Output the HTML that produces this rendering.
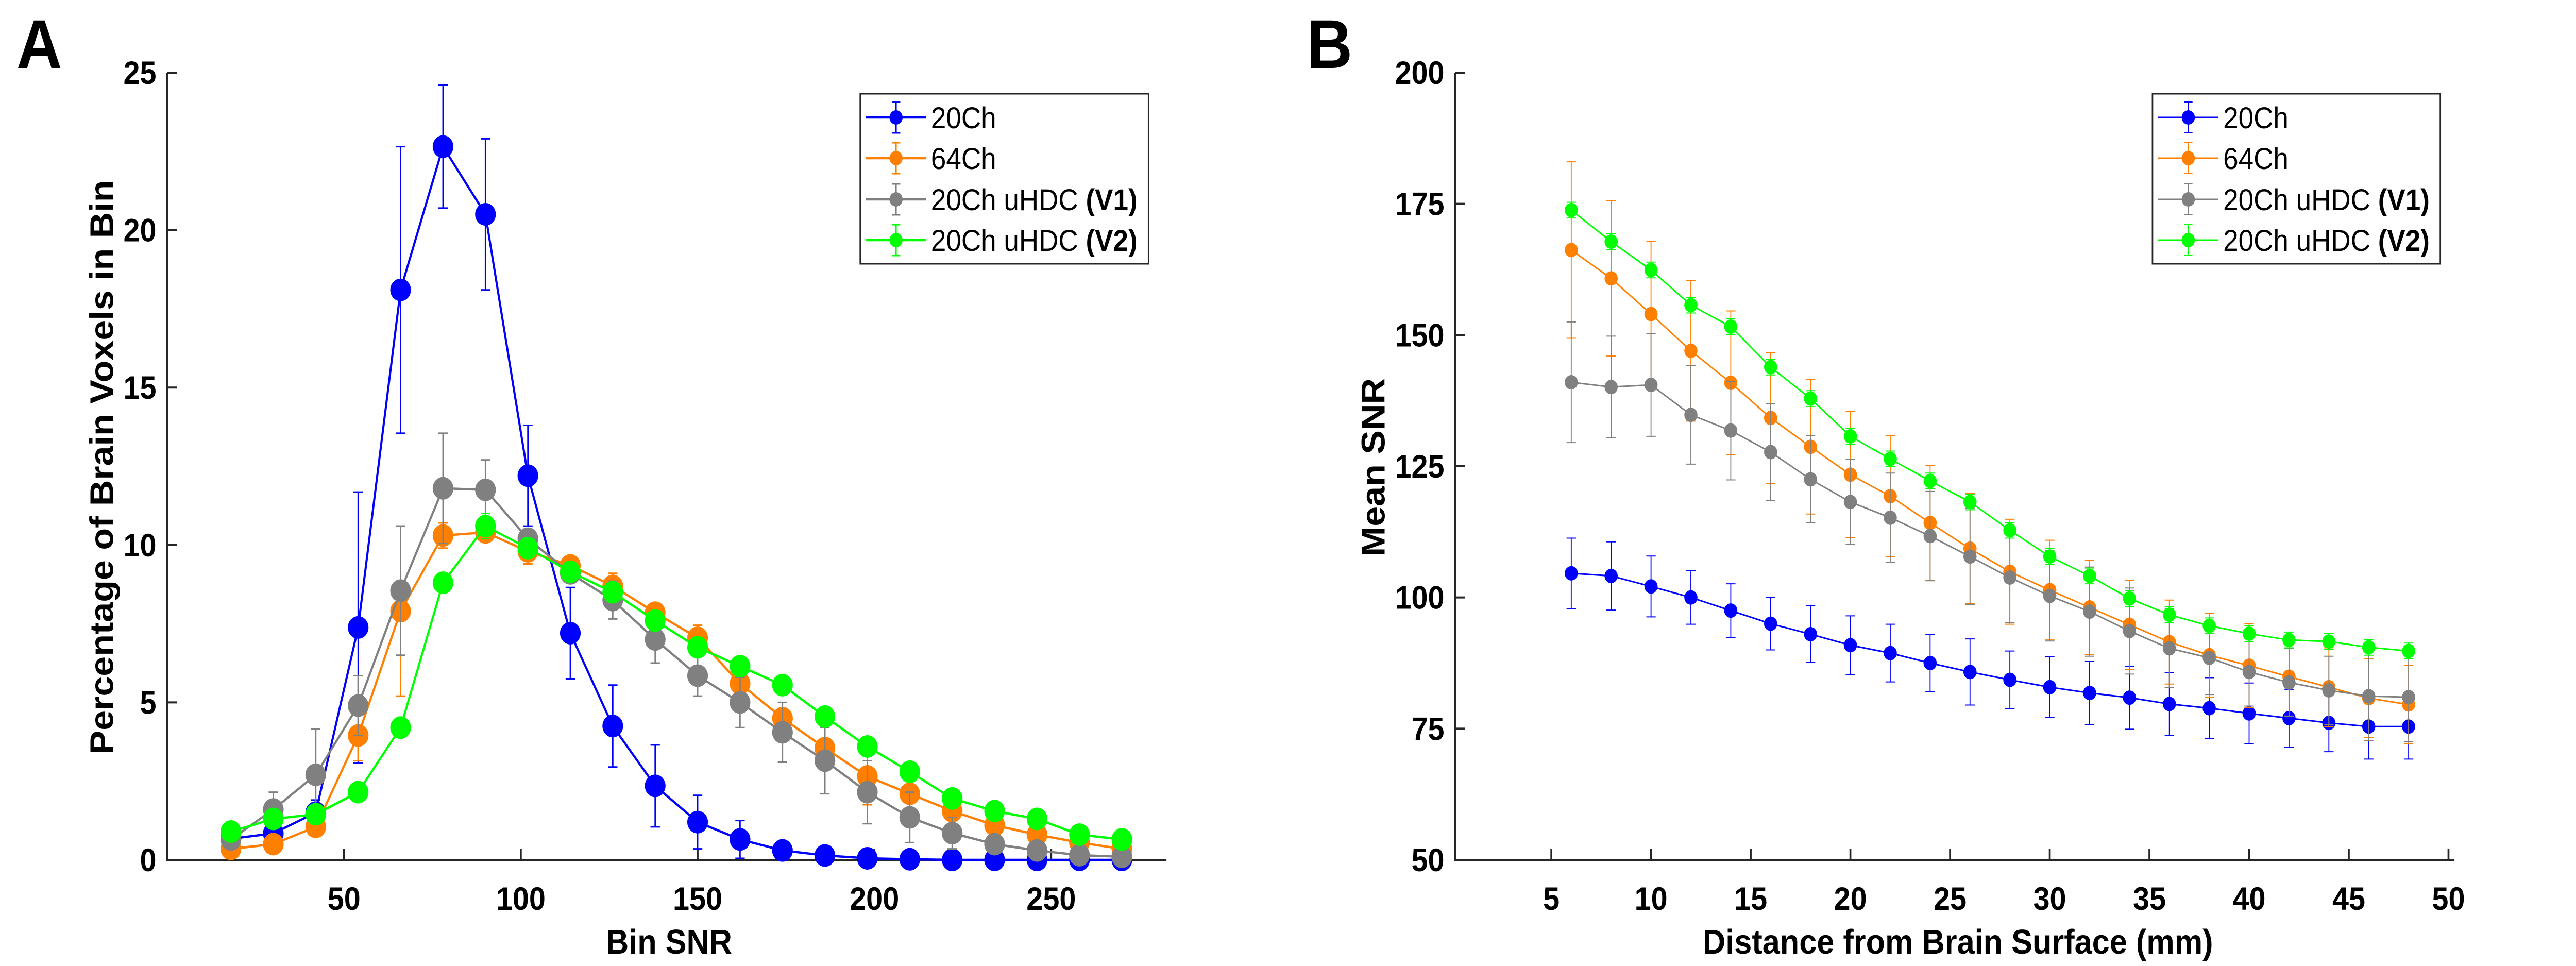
<!DOCTYPE html>
<html><head><meta charset="utf-8"><style>
html,body{margin:0;padding:0;background:#fff;width:100%;height:100%;overflow:hidden;}
svg{display:block;font-family:"Liberation Sans",Arial,sans-serif;position:absolute;left:0;top:0;width:100vw;height:100vh;}
</style></head><body>
<svg id="fig" viewBox="0 0 5468 1875" preserveAspectRatio="none" xmlns="http://www.w3.org/2000/svg">
<rect width="5468" height="1875" fill="#fff"/>
</svg>
<script>
// ---------- Panel A data ----------
const xA = [18,30,42,54,66,78,90,102,114,126,138,150,162,174,186,198,210,222,234,246,258,270];
const aBlue = [0.67,0.84,1.5,7.38,18.1,22.65,20.5,12.2,7.2,4.25,2.35,1.2,0.65,0.3,0.14,0.05,0.02,0,0,0,0,0];
const aBlueErr = [0.2,0.2,0.4,4.3,4.55,1.95,2.4,1.6,1.45,1.3,1.3,0.85,0.6,0.2,0.15,0.1,0.1,0.05,0.05,0.05,0.05,0.05];
const aOrange = [0.35,0.5,1.05,3.95,7.9,10.3,10.4,9.8,9.35,8.7,7.85,7.05,5.6,4.5,3.55,2.65,2.1,1.55,1.1,0.8,0.55,0.35];
const aOrangeErr = [0.2,0.2,0.3,0.8,2.7,0.4,0.3,0.4,0.3,0.4,0.3,0.4,0.3,0.3,0.3,0.9,0.3,0.3,0.3,0.3,0.2,0.2];
const aGray = [0.65,1.6,2.7,4.9,8.55,11.8,11.75,10.2,9.1,8.25,7.0,5.85,5.0,4.05,3.15,2.15,1.35,0.85,0.5,0.3,0.15,0.1];
const aGrayErr = [0.2,0.55,1.45,0.95,2.05,1.75,0.95,0.3,0.3,0.6,0.75,0.65,0.8,0.95,1.05,1.0,0.8,0.5,0.3,0.2,0.2,0.2];
const aGreen = [0.9,1.3,1.45,2.15,4.2,8.8,10.6,9.9,9.15,8.5,7.6,6.75,6.15,5.55,4.55,3.6,2.8,1.95,1.55,1.3,0.8,0.65];
const aGreenErr = [0.2,0.2,0.2,0.2,0.2,0.3,0.4,0.3,0.3,0.3,0.3,0.3,0.3,0.3,0.3,0.3,0.3,0.3,0.3,0.2,0.2,0.2];
const aXTicks = [50,100,150,200,250];
const aYTicks = [0,5,10,15,20,25];
// ---------- Panel B data ----------
const xB = [6,8,10,12,14,16,18,20,22,24,26,28,30,32,34,36,38,40,42,44,46,48];
const bBlue = [104.6,104.1,102.1,100,97.5,95,93,90.9,89.4,87.5,85.8,84.3,82.9,81.8,80.9,79.7,78.9,77.9,77,76.1,75.4,75.4];
const bBlueErr = [6.7,6.5,5.8,5.1,5.1,5,5.4,5.6,5.5,5.5,6.3,5.5,5.8,6,6,6,5.8,5.8,5.5,5.5,6.2,6.2];
const bOrange = [166.2,160.8,154,147,140.9,134.2,128.7,123.4,119.3,114.2,109.3,104.9,101.4,98.1,94.8,91.5,89,87,84.9,82.9,80.8,79.6];
const bOrangeErr = [16.8,14.8,13.8,13.4,13.7,12.5,12.8,12,11.5,11,10.5,10,9.5,9,8.5,8,8,8,7.5,7.5,7.5,7.5];
const bGray = [141,140.1,140.5,134.8,131.8,127.7,122.5,118.2,115.2,111.7,107.8,103.8,100.3,97.3,93.6,90.3,88.5,85.8,83.8,82.3,81.2,81];
const bGrayErr = [11.5,9.7,9.8,9.4,9.4,9.2,8.3,8.1,8.5,8.5,9.2,8.6,8.6,8.5,8.2,7.5,7,6.5,6.5,6.5,8.5,8.5];
const bGreen = [173.8,167.8,162.4,155.7,151.6,143.9,137.9,130.7,126.4,122.2,118.2,112.8,107.8,104.1,99.8,96.7,94.6,93.1,91.9,91.6,90.5,89.8];
const bGreenErr = [1.5,1.5,1.5,1.5,1.5,1.5,1.5,1.5,1.5,1.5,1.5,1.5,1.5,1.5,1.5,1.5,1.5,1.5,1.5,1.5,1.5,1.5];
const bXTicks = [5,10,15,20,25,30,35,40,45,50];
const bYTicks = [50,75,100,125,150,175,200];
const seriesNames = ["20Ch","64Ch","20Ch uHDC ","20Ch uHDC "];
const seriesBold = ["","","(V1)","(V2)"];

const NS = "http://www.w3.org/2000/svg";
const svg = document.getElementById('fig');
function mk(tag, attrs, parent){
  const e = document.createElementNS(NS, tag);
  for (const k in attrs) e.setAttribute(k, attrs[k]);
  (parent||svg).appendChild(e);
  return e;
}
const colors = ["#0000ff","#ff8000","#808080","#00ff00"];

function panel(cfg){
  const g = mk('g', {});
  
  
  const sx = v => cfg.L + (v - cfg.x0) / (cfg.x1 - cfg.x0) * (cfg.R - cfg.L);
  const sy = v => cfg.B - (v - cfg.y0) / (cfg.y1 - cfg.y0) * (cfg.B - cfg.T);
  const ax = mk('path', {d:`M${cfg.L},${cfg.T} L${cfg.L},${cfg.B} L${cfg.R},${cfg.B}`, stroke:'#262626', 'stroke-width':4, fill:'none'}, g);
  
  
  cfg.yTicks.forEach(t => {
    const y = sy(t);
    mk('line', {x1:cfg.L, x2:cfg.L+21, y1:y, y2:y, stroke:'#262626','stroke-width':4}, g);
    const tx = mk('text', {x:cfg.L-23, y:y+22, 'font-size':63, 'font-weight':'bold', 'text-anchor':'end', fill:'#000'}, g);
    tx.textContent = t;
    
    
  });
  cfg.xTicks.forEach(t => {
    const x = sx(t);
    mk('line', {x1:x, x2:x, y1:cfg.B, y2:cfg.B-21, stroke:'#262626','stroke-width':4}, g);
    const tx = mk('text', {x:x, y:cfg.B+97, 'font-size':63, 'font-weight':'bold', 'text-anchor':'middle', fill:'#000'}, g);
    tx.textContent = t;
    
    
  });
  cfg.series.forEach((s, i) => {
    const sg = mk('g', {}, g);
    
    
    const c = colors[i];
    s.y.forEach((v, j) => {
      const x = sx(cfg.x[j]), e = s.e[j];
      const eb = mk('path', {d:`M${x},${sy(v-e)} L${x},${sy(v+e)} M${x-cfg.cap},${sy(v-e)} L${x+cfg.cap},${sy(v-e)} M${x-cfg.cap},${sy(v+e)} L${x+cfg.cap},${sy(v+e)}`, stroke:c, 'stroke-width':cfg.ew, fill:'none'}, sg);
      
      
    });
    const pts = s.y.map((v, j) => `${sx(cfg.x[j])},${sy(v)}`).join(' ');
    const pl = mk('polyline', {points:pts, stroke:c, 'stroke-width':cfg.lw, fill:'none'}, sg);
    
    
    s.y.forEach((v, j) => {
      const m = mk('circle', {cx:sx(cfg.x[j]), cy:sy(v), r:cfg.mr, fill:c}, sg);
      
      
    });
  });
  const lg = mk('g', {}, g);
  
  
  mk('rect', {x:cfg.lx, y:182, width:cfg.lw2, height:330, fill:'#fff', stroke:'#262626', 'stroke-width':3}, lg);
  const rows = [228,307,387,466];
  rows.forEach((ry, i) => {
    const le = mk('g', {}, lg);
    
    
    const c = colors[i], x0 = cfg.lx+12, x1 = cfg.lx+140, xm = cfg.lx+76;
    mk('line', {x1:x0, x2:x1, y1:ry, y2:ry, stroke:c, 'stroke-width':cfg.lw}, le);
    mk('path', {d:`M${xm},${ry-30} L${xm},${ry+30} M${xm-9},${ry-30} L${xm+9},${ry-30} M${xm-9},${ry+30} L${xm+9},${ry+30}`, stroke:c, 'stroke-width':cfg.ew, fill:'none'}, le);
    mk('circle', {cx:xm, cy:ry, r:14, fill:c}, le);
    const t = mk('text', {x:cfg.lx+150, y:ry+21, 'font-size':58, fill:'#000'}, le);
    t.textContent = seriesNames[i];
    if (seriesBold[i]) {
      const b = mk('tspan', {'font-weight':'bold'}, t);
      b.textContent = seriesBold[i];
    }
  });
}

panel({name:'panel-a-chart', keys:['20ch','64ch','uhdc-v1','uhdc-v2'],
  L:355, R:2476, T:141, B:1669, x0:0, x1:282.6, y0:0, y1:25,
  x:xA, xTicks:aXTicks, yTicks:aYTicks, cap:10, ew:3, lw:4.5, mr:22, lx:1826, lw2:612,
  series:[{y:aBlue,e:aBlueErr},{y:aOrange,e:aOrangeErr},{y:aGray,e:aGrayErr},{y:aGreen,e:aGreenErr}]});
panel({name:'panel-b-chart', keys:['20ch','64ch','uhdc-v1','uhdc-v2'],
  L:3089, R:5210, T:141, B:1669, x0:0.18, x1:50.3, y0:50, y1:200,
  x:xB, xTicks:bXTicks, yTicks:bYTicks, cap:10, ew:2, lw:3, mr:14, lx:4569, lw2:611,
  series:[{y:bBlue,e:bBlueErr},{y:bOrange,e:bOrangeErr},{y:bGray,e:bGrayErr},{y:bGreen,e:bGreenErr}]});

function label(txt, attrs, name){
  const t = mk('text', attrs);
  t.textContent = txt;
  
  
}
label('A', {x:35, y:132, 'font-size':134, 'font-weight':'bold'}, 'panel-a-letter');
label('B', {x:2774, y:132, 'font-size':134, 'font-weight':'bold'}, 'panel-b-letter');
label('Bin SNR', {x:1420, y:1851, 'font-size':67, 'font-weight':'bold', 'text-anchor':'middle'}, 'x-axis-title-a');
label('Distance from Brain Surface (mm)', {x:4156, y:1851, 'font-size':67, 'font-weight':'bold', 'text-anchor':'middle'}, 'x-axis-title-b');
label('Percentage of Brain Voxels in Bin', {x:0, y:0, 'font-size':70, 'font-weight':'bold', 'text-anchor':'middle', transform:'translate(240,907) rotate(-90)'}, 'y-axis-title-a');
label('Mean SNR', {x:0, y:0, 'font-size':70, 'font-weight':'bold', 'text-anchor':'middle', transform:'translate(2939,907) rotate(-90)'}, 'y-axis-title-b');
</script>
</body></html>
